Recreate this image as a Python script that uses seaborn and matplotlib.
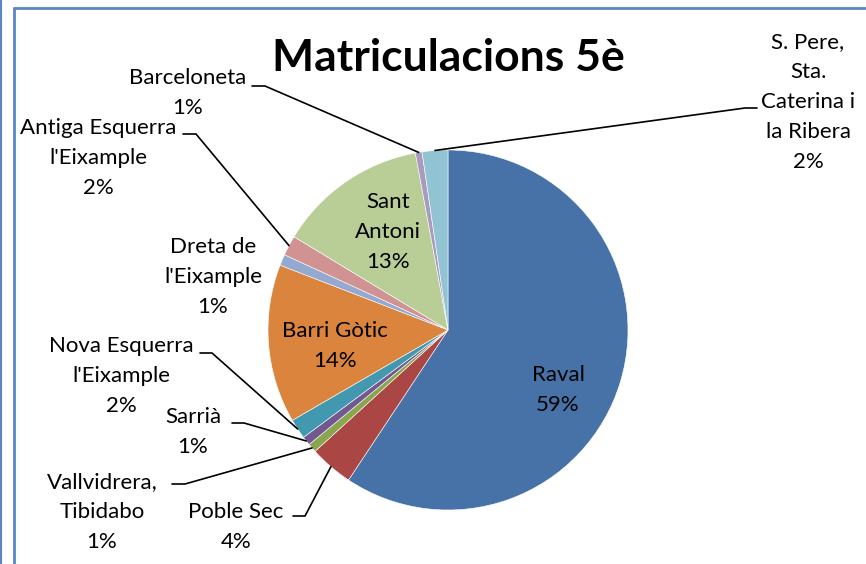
import matplotlib.pyplot as plt
import numpy as np
import pandas as pd
import seaborn as sns
from matplotlib.lines import Line2D

sns.set_theme(style="white")
plt.rcParams['font.family'] = ['Lato', 'DejaVu Sans']

# data (percent of enrolments, clockwise from the top)
barris = ['Raval', 'Poble Sec', 'Vallvidrera,\nTibidabo', 'Sarrià',
          "Nova Esquerra\nl'Eixample", 'Barri Gòtic', "Dreta de\nl'Eixample",
          "Antiga Esquerra\nl'Eixample", 'Sant\nAntoni', 'Barceloneta',
          'S. Pere,\nSta.\nCaterina i\nla Ribera']
percent = [59.2, 3.9, 0.8, 0.8, 1.8, 14.2, 1.0, 1.8, 13.4, 0.6, 2.3]
colors = ['#4672A8', '#AA4643', '#89A54E', '#71588F', '#4198AF', '#DB843D',
          '#93A9CF', '#D19392', '#B9CD96', '#A99BBD', '#92C3D3']

df = pd.DataFrame({'barri': barris, 'pct': percent, 'color': colors})

W, H = 866, 564
fig = plt.figure(figsize=(W / 100, H / 100), dpi=100)
ax = fig.add_axes([0, 0, 1, 1])

cx, cy, r = 448, 330, 180
wedges, _ = ax.pie(df['pct'], colors=df['color'], startangle=-90, counterclock=True,
                   center=(cx, cy), radius=r, frame=True,
                   wedgeprops=dict(edgecolor='white', linewidth=0.4))
ax.set_xlim(0, W)
ax.set_ylim(H, 0)
ax.axis('off')

# label positions (pixel layout) and leader elbows
layout = {
    'Raval': ((558, 390), None),
    'Barri Gòtic': ((335, 346), None),
    'Sant\nAntoni': ((388, 232), None),
    "Dreta de\nl'Eixample": ((213, 277), None),
    'S. Pere,\nSta.\nCaterina i\nla Ribera': ((808, 102), ((757, 108), (745, 108))),
    'Barceloneta': ((188, 93), ((252, 86), (265, 86))),
    "Antiga Esquerra\nl'Eixample": ((98, 158), ((183, 134), (196, 134))),
    "Nova Esquerra\nl'Eixample": ((121, 376), ((200, 353), (212, 353))),
    'Sarrià': ((193, 432), ((232, 423), (244, 423))),
    'Vallvidrera,\nTibidabo': ((102, 512), ((172, 484), (185, 484))),
    'Poble Sec': ((236, 527), ((293, 516), (305, 516))),
}

for w, (_, row) in zip(wedges, df.iterrows()):
    (tx, ty), leader = layout[row['barri']]
    label = f"{row['barri']}\n{round(row['pct'])}%"
    ax.text(tx, ty, label, ha='center', va='center', fontsize=16,
            linespacing=1.62, color='black')
    if leader is not None:
        mid = np.deg2rad((w.theta1 + w.theta2) / 2)
        ex, ey = cx + r * np.cos(mid), cy + r * np.sin(mid)
        (x0, y0), (x1, y1) = leader
        ax.plot([x0, x1, ex], [y0, y1, ey], color='black', lw=1.2,
                solid_joinstyle='miter')

ax.text(448, 58, 'Matriculacions 5è', ha='center', va='center',
        fontsize=32, fontweight='bold', color='black')

# frame lines
blue = '#5B87C6'
fig.add_artist(Line2D([1 / W, 1 / W], [0, 1], color=blue, lw=1.5))
fig.add_artist(Line2D([14 / W, 14 / W], [0, 1 - 8 / H], color=blue, lw=2))
fig.add_artist(Line2D([14 / W, 1], [1 - 8 / H, 1 - 8 / H], color=blue, lw=2))

fig.savefig('out.png', dpi=100, facecolor='white')
